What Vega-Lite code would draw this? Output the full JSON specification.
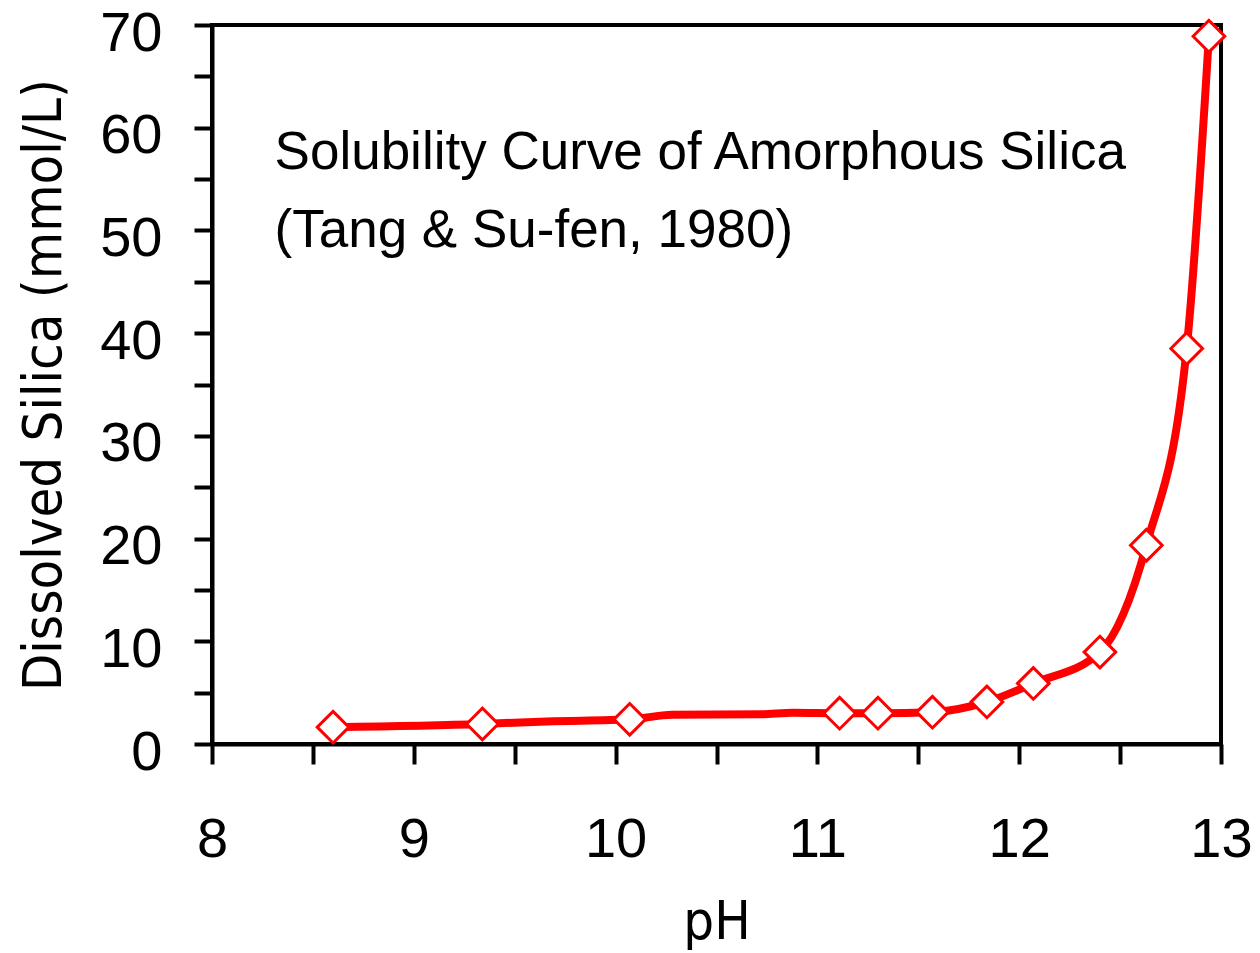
{
  "$schema": "https://vega.github.io/schema/vega-lite/v6.json",
  "autosize": "none",
  "width": 1009,
  "height": 719,
  "padding": {"left": 212, "top": 25, "right": 39, "bottom": 209},
  "background": "white",
  "config": {
    "view": {"stroke": "black", "strokeWidth": 4},
    "font": "Liberation Sans",
    "axis": {
      "domainColor": "black", "domainWidth": 4, "tickColor": "black", "tickWidth": 4,
      "grid": false, "labelFont": "Liberation Sans", "labelFontSize": 56, "labelColor": "black",
      "titleFont": "'Liberation Sans Narrow', 'DejaVu Sans Condensed', 'Roboto Condensed', 'Liberation Sans'", "titleFontSize": 54, "titleFontWeight": "normal", "titleColor": "black"
    }
  },
  "datasets": {
    "curve": [
      {"pH": 8.60, "silica": 1.64},
      {"pH": 9.34, "silica": 1.95},
      {"pH": 9.66, "silica": 2.2},
      {"pH": 10.07, "silica": 2.4},
      {"pH": 10.28, "silica": 2.85},
      {"pH": 10.72, "silica": 2.9},
      {"pH": 10.88, "silica": 3.05},
      {"pH": 11.11, "silica": 3.0},
      {"pH": 11.30, "silica": 3.0},
      {"pH": 11.57, "silica": 3.1},
      {"pH": 11.84, "silica": 4.1},
      {"pH": 12.07, "silica": 5.9},
      {"pH": 12.40, "silica": 8.95},
      {"pH": 12.63, "silica": 19.35},
      {"pH": 12.83, "silica": 38.5},
      {"pH": 12.94, "silica": 68.9}
    ],
    "points": [
      {"pH": 8.60, "silica": 1.64},
      {"pH": 9.34, "silica": 1.95},
      {"pH": 10.07, "silica": 2.4},
      {"pH": 11.11, "silica": 3.0},
      {"pH": 11.30, "silica": 3.0},
      {"pH": 11.57, "silica": 3.1},
      {"pH": 11.84, "silica": 4.1},
      {"pH": 12.07, "silica": 5.9},
      {"pH": 12.40, "silica": 8.95},
      {"pH": 12.63, "silica": 19.35},
      {"pH": 12.83, "silica": 38.5},
      {"pH": 12.94, "silica": 68.9}
    ],
    "notes": [
      {"pH": 8.31, "silica": 56.0, "text": "Solubility Curve of Amorphous Silica"},
      {"pH": 8.31, "silica": 48.4, "text": "(Tang & Su-fen, 1980)"}
    ]
  },
  "encoding": {
    "x": {
      "field": "pH", "type": "quantitative",
      "scale": {"domain": [8, 13], "nice": false, "zero": false},
      "axis": {
        "title": "pH", "values": [8, 8.5, 9, 9.5, 10, 10.5, 11, 11.5, 12, 12.5, 13],
        "labelExpr": "datum.value % 1 === 0 ? format(datum.value, 'd') : ''",
        "tickSize": 20, "labelPadding": 48, "titlePadding": 28, "labelFlush": false, "labelOverlap": false
      }
    },
    "y": {
      "field": "silica", "type": "quantitative",
      "scale": {"domain": [0, 70], "nice": false},
      "axis": {
        "title": "Dissolved Silica (mmol/L)",
        "values": [0, 5, 10, 15, 20, 25, 30, 35, 40, 45, 50, 55, 60, 65, 70],
        "labelExpr": "datum.value % 10 === 0 ? format(datum.value, 'd') : ''",
        "tickSize": 18, "labelPadding": 32, "labelOffset": 8, "titlePadding": 28, "labelFlush": false, "labelOverlap": false
      }
    }
  },
  "layer": [
    {
      "data": {"name": "curve"},
      "mark": {"type": "line", "color": "#ff0000", "strokeWidth": 8, "interpolate": "monotone"}
    },
    {
      "data": {"name": "points"},
      "mark": {"type": "point", "shape": "diamond", "size": 1000, "filled": true, "fill": "white", "stroke": "#ff0000", "strokeWidth": 3, "opacity": 1}
    },
    {
      "data": {"name": "notes"},
      "mark": {"type": "text", "align": "left", "baseline": "alphabetic", "fontSize": 53, "font": "Liberation Sans", "color": "black"},
      "encoding": {"text": {"field": "text", "type": "nominal"}}
    }
  ]
}
